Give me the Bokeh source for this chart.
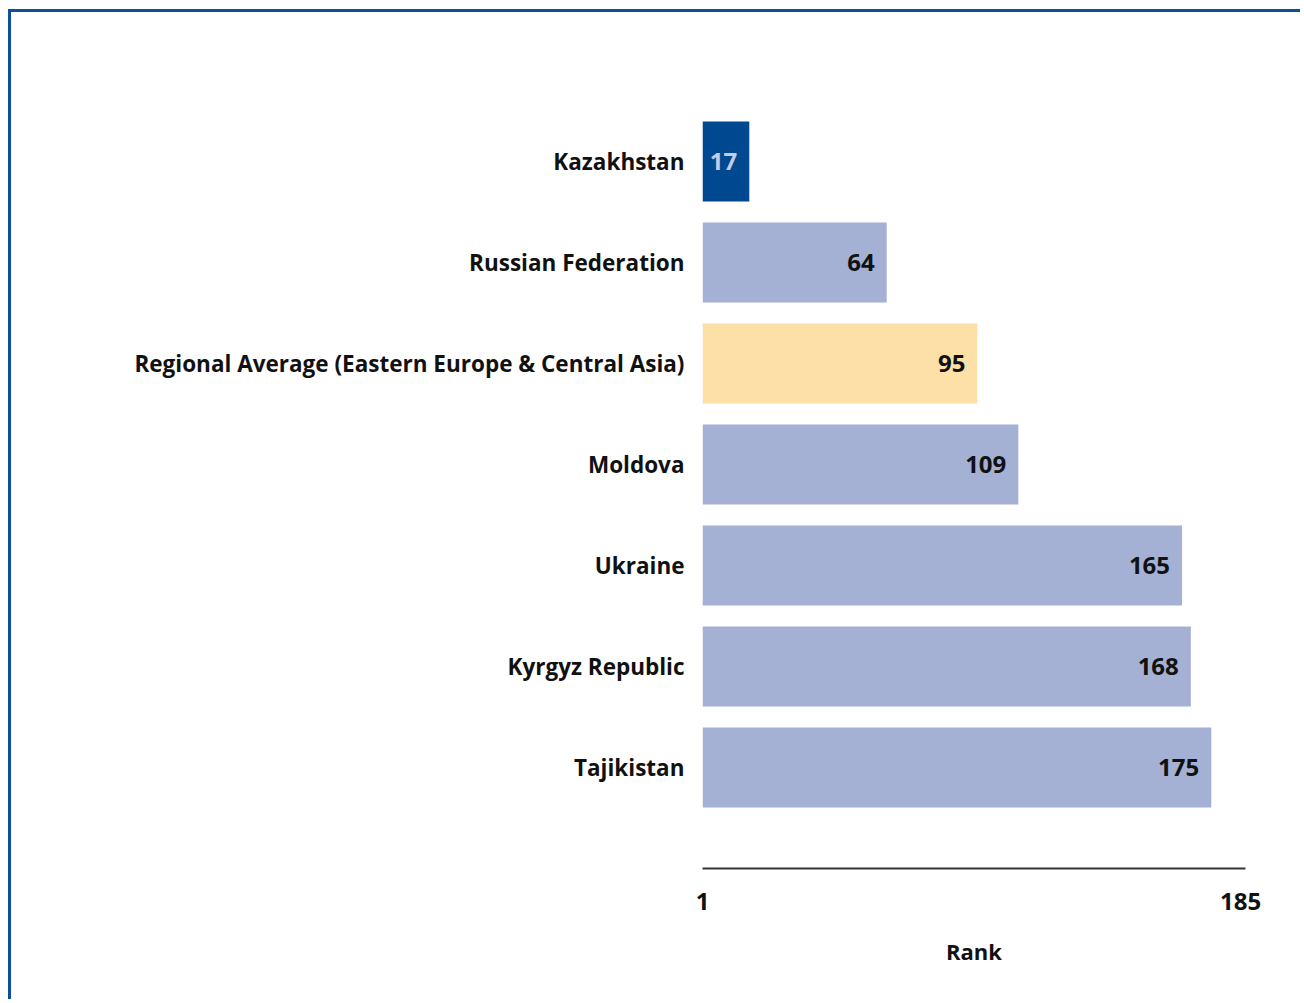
from bokeh.plotting import figure
from bokeh.models import ColumnDataSource, Range1d, FixedTicker
from bokeh.embed import file_html
from bokeh.resources import INLINE
from bokeh.core.properties import value

# ---- data ----
countries = [
    "Kazakhstan",
    "Russian Federation",
    "Regional Average (Eastern Europe & Central Asia)",
    "Moldova",
    "Ukraine",
    "Kyrgyz Republic",
    "Tajikistan",
]
ranks = [17, 64, 95, 109, 165, 168, 175]
rank_ticks = [1, 185]
axis_title = "Rank"

# ---- styles ----
bar_colors = ["#00488f", "#a4b0d4", "#fde0a8", "#a4b0d4", "#a4b0d4", "#a4b0d4", "#a4b0d4"]
label_colors = ["#c3cce6", "#111111", "#111111", "#111111", "#111111", "#111111", "#111111"]
FONT = "Open Sans"

n = len(countries)
ypos = [n - 1 - i for i in range(n)]

src = ColumnDataSource(dict(
    y=ypos,
    left=[rank_ticks[0]] * n,
    right=ranks,
    label=[str(r) for r in ranks],
    color=bar_colors,
    tcolor=label_colors,
))

p = figure(
    width=1292, height=990,
    output_backend="svg", toolbar_location=None,
    x_range=Range1d(rank_ticks[0], 186.7),
    y_range=Range1d(-1, n),
    min_border_left=691, min_border_right=58,
    min_border_top=48, min_border_bottom=134,
    background_fill_color="white", border_fill_color="white",
)
p.outline_line_color = None
p.grid.visible = False
p.styles = {"border-top": "3px solid #0d4f9c", "border-left": "3px solid #0d4f9c",
            "margin-left": "8px", "margin-top": "9px"}

p.hbar(y="y", left="left", right="right", height=0.79,
       fill_color="color", line_color=None, source=src)
p.text(x="right", y="y", text="label", x_offset=-12,
       text_align="right", text_baseline="middle",
       text_color="tcolor", text_font=value(FONT), text_font_style="bold",
       text_font_size="24px", source=src)

# x axis
xa = p.xaxis[0]
xa.ticker = FixedTicker(ticks=rank_ticks)
xa.axis_line_color = "#333333"
xa.axis_line_width = 2
xa.major_tick_line_color = None
xa.minor_tick_line_color = None
xa.major_tick_out = 0
xa.major_label_standoff = 24
xa.major_label_text_font = FONT
xa.major_label_text_font_style = "bold"
xa.major_label_text_font_size = "24px"
xa.major_label_text_color = "#111111"
xa.axis_label = axis_title
xa.axis_label_text_font = FONT
xa.axis_label_text_font_style = "bold"
xa.axis_label_text_font_size = "22px"
xa.axis_label_text_color = "#111111"
xa.axis_label_standoff = 23

# y axis (categories)
ya = p.yaxis[0]
ya.ticker = FixedTicker(ticks=ypos)
ya.major_label_overrides = {y: c for y, c in zip(ypos, countries)}
ya.axis_line_color = None
ya.major_tick_line_color = None
ya.minor_tick_line_color = None
ya.major_tick_out = 0
ya.major_label_standoff = 18
ya.major_label_text_font = FONT
ya.major_label_text_font_style = "bold"
ya.major_label_text_font_size = "22.5px"
ya.major_label_text_color = "#111111"

open("out.html", "w").write(file_html(p, INLINE))
